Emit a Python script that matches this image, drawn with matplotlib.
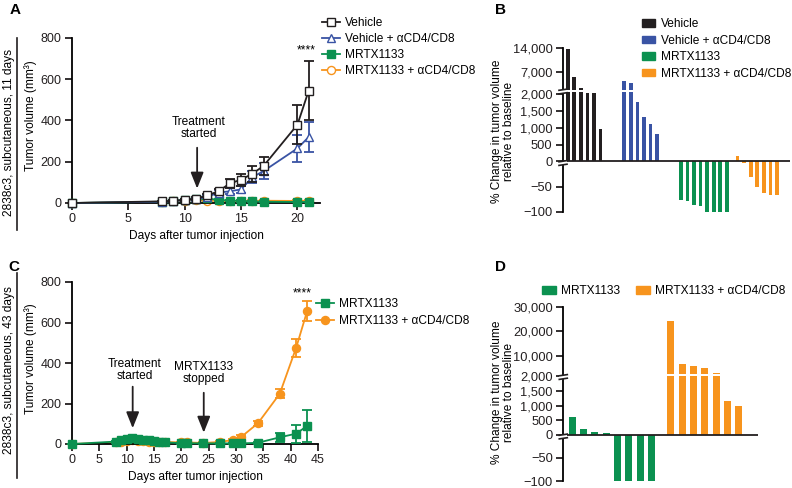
import numpy as np
import matplotlib
matplotlib.use('Agg')
import matplotlib.pyplot as plt
from matplotlib.lines import Line2D
from matplotlib.patches import Patch, Rectangle

plt.rcParams['font.family'] = ['Liberation Sans', 'DejaVu Sans']
plt.rcParams['font.size'] = 8.6
plt.rcParams['axes.linewidth'] = 1.3
plt.rcParams['xtick.major.width'] = 1.3
plt.rcParams['ytick.major.width'] = 1.3
plt.rcParams['xtick.major.size'] = 5
plt.rcParams['ytick.major.size'] = 5
plt.rcParams['xtick.major.pad'] = 2.5
plt.rcParams['ytick.major.pad'] = 2.5
plt.rcParams['xtick.labelsize'] = 9
plt.rcParams['ytick.labelsize'] = 9

# ---------------- data ----------------
days_a = [0, 8, 9, 10, 11, 12, 13, 14, 15, 16, 17, 20, 21]
a_vehicle = [0, 8, 11, 16, 21, 37, 57, 95, 113, 142, 180, 380, 545]
a_vehicle_err = [0, 3, 4, 5, 6, 8, 12, 22, 30, 38, 45, 95, 145]
a_vehicle_cd = [0, 6, 9, 14, 18, 30, 50, 57, 66, 125, 155, 265, 320]
a_vehicle_cd_err = [0, 3, 4, 5, 6, 8, 12, 15, 18, 30, 38, 65, 75]
a_mrtx = [0, 6, 10, 15, 20, 22, 15, 12, 10, 8, 6, 5, 5]
a_mrtx_err = [0, 3, 3, 4, 5, 5, 4, 3, 3, 3, 2, 2, 2]
a_mrtx_cd = [0, 5, 8, 12, 15, 12, 9, 10, 10, 11, 11, 10, 11]
a_mrtx_cd_err = [0, 2, 3, 3, 4, 4, 3, 3, 3, 3, 3, 3, 3]

days_c = [0, 8, 9, 10, 11, 12, 13, 14, 15, 16, 17, 20, 21, 24, 27, 29.5, 31, 34, 38, 41, 43]
c_mrtx = [0, 12, 18, 24, 28, 26, 22, 18, 14, 10, 8, 4, 4, 3, 3, 3, 3, 6, 33, 51, 89]
c_mrtx_err = [0, 5, 6, 7, 8, 7, 6, 5, 5, 4, 4, 3, 3, 2, 2, 2, 2, 5, 22, 45, 77]
c_mrtx_cd = [0, 8, 12, 15, 18, 16, 14, 12, 12, 12, 10, 8, 8, 5, 10, 20, 36, 102, 248, 475, 655]
c_mrtx_cd_err = [0, 3, 4, 5, 5, 5, 4, 4, 4, 4, 3, 3, 3, 3, 4, 6, 8, 14, 22, 45, 50]

b_vehicle = [13800, 5800, 3300, 2150, 2150, 950]
b_vehicle_cd = [5000, 4500, 1770, 1310, 1110, 800]
b_mrtx = [-76, -78, -87, -89, -100, -100, -100, -100]
b_mrtx_cd = [150, -3, -31, -50, -62, -66, -66]
b_ticks = [-100, -50, 0, 500, 1000, 1500, 2000, 7000, 14000]
b_ticklabels = ['\u2212100', '\u221250', '0', '500', '1,000', '1,500', '2,000', '7,000', '14,000']

d_mrtx = [590, 185, 80, 50, -100, -100, -100, -100]
d_mrtx_cd = [24200, 6700, 5900, 5200, 3200, 1140, 1000]
d_ticks = [-100, -50, 0, 500, 1000, 1500, 2000, 10000, 20000, 30000]
d_ticklabels = ['\u2212100', '\u221250', '0', '500', '1,000', '1,500', '2,000', '10,000', '20,000', '30,000']

lab_veh = 'Vehicle'
lab_veh_cd = 'Vehicle + \u03b1CD4/CD8'
lab_mrtx = 'MRTX1133'
lab_mrtx_cd = 'MRTX1133 + \u03b1CD4/CD8'

BLACK = '#231f20'
BLUE = '#3953a4'
GREEN = '#0b9150'
ORANGE = '#f7941d'

W, H = 792, 488
fig = plt.figure(figsize=(W / 100, H / 100), dpi=100)


def px_axes(left, top, right, bottom):
    return fig.add_axes([left / W, 1 - bottom / H, (right - left) / W, (bottom - top) / H])


def style_line_axes(ax):
    for s in ['top', 'right']:
        ax.spines[s].set_visible(False)
    ax.tick_params(direction='out', colors=BLACK)


def eb(ax, x, y, e, color, marker, mfc, z, ms=5.8):
    ax.errorbar(x, y, yerr=e, color=color, marker=marker, mfc=mfc, mec=color, ms=ms,
                lw=1.3, elinewidth=1.3, capsize=3.5, capthick=1.3, zorder=z, clip_on=False)


# ---------------- panel A ----------------
axA = px_axes(72, 38, 320, 203)
style_line_axes(axA)
eb(axA, days_a, a_mrtx_cd, a_mrtx_cd_err, ORANGE, 'o', 'white', 2)
eb(axA, days_a, a_mrtx, a_mrtx_err, GREEN, 's', GREEN, 3)
eb(axA, days_a, a_vehicle_cd, a_vehicle_cd_err, BLUE, '^', 'white', 4)
eb(axA, days_a, a_vehicle, a_vehicle_err, BLACK, 's', 'white', 5)
axA.set_xlim(0, 22)
axA.set_ylim(0, 800)
axA.set_xticks([0, 5, 10, 15, 20])
axA.set_yticks([0, 200, 400, 600, 800])
axA.set_xlabel('Days after tumor injection', labelpad=3)
axA.set_ylabel('Tumor volume (mm\u00b3)')
axA.yaxis.set_label_coords(-0.142, 0.53)
axA.text(20.8, 738, '****', ha='center', va='center', fontsize=8.6)
axA.text(11.25, 364, 'Treatment\nstarted', ha='center', va='center', linespacing=1.0)
axA.annotate('', xy=(11.1, 70), xytext=(11.1, 268),
             arrowprops=dict(arrowstyle='-|>,head_length=0.7,head_width=0.28',
                             mutation_scale=14, lw=1.3, color=BLACK, shrinkA=0, shrinkB=0))

hA = [Line2D([], [], color=BLACK, marker='s', mfc='white', ms=5.8, lw=1.3),
      Line2D([], [], color=BLUE, marker='^', mfc='white', ms=5.8, lw=1.3),
      Line2D([], [], color=GREEN, marker='s', mfc=GREEN, ms=5.8, lw=1.3),
      Line2D([], [], color=ORANGE, marker='o', mfc='white', ms=5.8, lw=1.3)]
fig.legend(hA, [lab_veh, lab_veh_cd, lab_mrtx, lab_mrtx_cd], loc='upper left',
           bbox_to_anchor=(322 / W, 1 - 17 / H), frameon=False, handlelength=1.5,
           handletextpad=0.45, labelspacing=0.33, borderpad=0, borderaxespad=0)

# ---------------- panel C ----------------
axC = px_axes(72, 282, 318, 444)
style_line_axes(axC)
eb(axC, days_c, c_mrtx_cd, c_mrtx_cd_err, ORANGE, 'o', ORANGE, 2)
eb(axC, days_c, c_mrtx, c_mrtx_err, GREEN, 's', GREEN, 3)
axC.set_xlim(0, 45)
axC.set_ylim(0, 800)
axC.set_xticks(list(range(0, 46, 5)))
axC.set_yticks([0, 200, 400, 600, 800])
axC.set_xlabel('Days after tumor injection', labelpad=3)
axC.set_ylabel('Tumor volume (mm\u00b3)')
axC.yaxis.set_label_coords(-0.144, 0.525)
axC.text(42.2, 744, '****', ha='center', va='center')
axC.text(11.5, 366, 'Treatment\nstarted', ha='center', va='center', linespacing=1.0)
axC.text(24.1, 352, 'MRTX1133\nstopped', ha='center', va='center', linespacing=1.0)
for xa, y0, y1 in [(11.1, 283, 78), (24.1, 253, 56)]:
    axC.annotate('', xy=(xa, y1), xytext=(xa, y0),
                 arrowprops=dict(arrowstyle='-|>,head_length=0.7,head_width=0.28',
                                 mutation_scale=14, lw=1.3, color=BLACK, shrinkA=0, shrinkB=0))
hC = [Line2D([], [], color=GREEN, marker='s', mfc=GREEN, ms=5.8, lw=1.3),
      Line2D([], [], color=ORANGE, marker='o', mfc=ORANGE, ms=5.8, lw=1.3)]
fig.legend(hC, [lab_mrtx, lab_mrtx_cd], loc='upper left',
           bbox_to_anchor=(316 / W, 1 - 298 / H), frameon=False, handlelength=1.5,
           handletextpad=0.45, labelspacing=0.45, borderpad=0, borderaxespad=0)

# ---------------- broken-axis helpers ----------------
def make_piecewise(vals, pix):
    vals = np.asarray(vals, float)
    pix = np.asarray(pix, float)

    def build(xs, ys):
        s0 = (ys[1] - ys[0]) / (xs[1] - xs[0])
        s1 = (ys[-1] - ys[-2]) / (xs[-1] - xs[-2])

        def f(v):
            v = np.asarray(v, float)
            out = np.interp(v, xs, ys)
            out = np.where(v < xs[0], ys[0] + (v - xs[0]) * s0, out)
            out = np.where(v > xs[-1], ys[-1] + (v - xs[-1]) * s1, out)
            return out
        return f
    return build(vals, pix), build(pix, vals)


def break_mark(ax, yval):
    fig.canvas.draw()
    _, y0 = ax.transData.transform((ax.get_xlim()[0], yval))
    x0 = ax.transAxes.transform((0, 0))[0]
    tr = matplotlib.transforms.IdentityTransform()
    fig.add_artist(Rectangle((x0 - 4, y0 - 1.6), 8, 3.2, facecolor='white', edgecolor='none',
                             transform=tr, zorder=10))
    for dy in (-1.8, 1.8):
        fig.add_artist(Line2D([x0 - 4, x0 + 4], [y0 + dy - 0.6, y0 + dy + 0.6], color=BLACK,
                              lw=1.2, transform=tr, zorder=11))


def bar_panel(ax, groups, starts, colors, width, vals, pix, ticks, ticklabels, xlim, gap_pix):
    f, g = make_piecewise(vals, pix)
    ax.set_yscale('function', functions=(f, g))
    for grp, st, c in zip(groups, starts, colors):
        x = st + np.arange(len(grp))
        ax.bar(x, grp, width=width, color=c, zorder=2, linewidth=0)
    ax.axhspan(float(g(gap_pix[0])), float(g(gap_pix[1])), xmin=0.012, xmax=1,
               color='white', zorder=2.5, lw=0)
    ax.axhline(0, color=BLACK, lw=1.3, zorder=3)
    ax.set_xlim(*xlim)
    ax.set_ylim(vals[0], vals[-1])
    ax.set_yticks(ticks)
    ax.set_yticklabels(ticklabels)
    ax.set_xticks([])
    for s in ['top', 'right', 'bottom']:
        ax.spines[s].set_visible(False)
    ax.tick_params(axis='y', direction='out', labelsize=9.3, colors=BLACK)
    return f, g


# ---------------- panel B ----------------
axB = px_axes(563, 48, 790, 212)
fB, gB = bar_panel(axB, [b_vehicle, b_vehicle_cd, b_mrtx, b_mrtx_cd], [0, 8.64, 17.3, 25.95],
                   [BLACK, BLUE, GREEN, ORANGE], 0.55,
                   [-100, 0, 2000, 7000, 14000], [0, 50.5, 118, 140, 164],
                   b_ticks, b_ticklabels, (-0.72, 33.95), (119.8, 122.0))
break_mark(axB, float(gB(120.5)))
break_mark(axB, float(gB(49.0)))
axB.set_ylabel('% Change in tumor volume\nrelative to baseline', linespacing=1.05)
axB.yaxis.set_label_coords(-0.211, 0.49)
hB = [Patch(color=BLACK), Patch(color=BLUE), Patch(color=GREEN), Patch(color=ORANGE)]
fig.legend(hB, [lab_veh, lab_veh_cd, lab_mrtx, lab_mrtx_cd], loc='upper left',
           bbox_to_anchor=(642 / W, 1 - 18 / H), frameon=False, handlelength=1.1,
           handleheight=0.6, handletextpad=0.45, labelspacing=0.38, borderpad=0, borderaxespad=0)

# ---------------- panel D ----------------
axD = px_axes(563.3, 307, 758, 481)
fD, gD = bar_panel(axD, [d_mrtx, d_mrtx_cd], [0, 8.71], [GREEN, ORANGE], 0.62,
                   [-100, 0, 2000, 10000, 20000, 30000], [0, 46.3, 104.7, 125.3, 150, 174],
                   d_ticks, d_ticklabels, (-0.79, 16.39), (104.9, 106.6))
break_mark(axD, float(gD(104.0)))
break_mark(axD, float(gD(44.5)))
axD.set_ylabel('% Change in tumor volume\nrelative to baseline', linespacing=1.05)
axD.yaxis.set_label_coords(-0.248, 0.509)
hD = [Patch(color=GREEN), Patch(color=ORANGE)]
fig.legend(hD, [lab_mrtx, lab_mrtx_cd], loc='upper left', ncol=2,
           bbox_to_anchor=(542 / W, 1 - 285 / H), frameon=False, handlelength=1.2,
           handleheight=0.6, handletextpad=0.4, columnspacing=1.3, borderpad=0, borderaxespad=0)

# ---------------- panel letters and row labels ----------------
for t, x, y in [('A', 10, 10), ('B', 495, 10), ('C', 8, 267), ('D', 495, 267)]:
    fig.text(x / W, 1 - y / H, t, fontsize=11, fontweight='bold', ha='left', va='center')

for t, yc, y0, y1 in [('2838c3, subcutaneous, 11 days', 132, 38, 230),
                      ('2838c3, subcutaneous, 43 days', 370, 273, 478)]:
    fig.text(9 / W, 1 - yc / H, t, rotation=90, ha='center', va='center')
    fig.add_artist(Line2D([17.3 / W, 17.3 / W], [1 - y0 / H, 1 - y1 / H], color=BLACK, lw=1.2,
                          transform=fig.transFigure))

fig.savefig('out.png', dpi=100)
